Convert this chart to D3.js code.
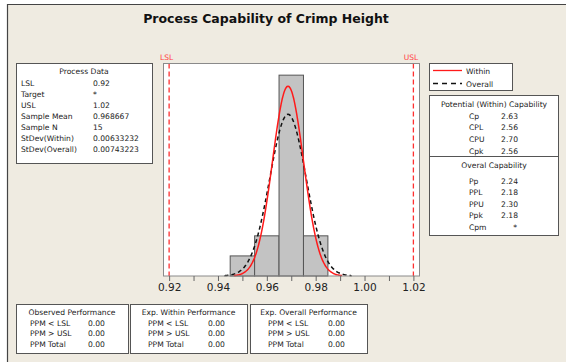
<!DOCTYPE html>
<html><head><meta charset="utf-8">
<script src="https://cdn.jsdelivr.net/npm/d3@7"></script>
<style>
html,body{margin:0;padding:0;background:#fff;}
svg{display:block;}
text{font-family:"DejaVu Sans",Verdana,sans-serif;fill:#222;}
</style></head>
<body>
<svg id="chart" width="566" height="362"></svg>
<script>
// ---- data ----
const title = "Process Capability of Crimp Height";
const binEdges = [0.945, 0.955, 0.965, 0.975, 0.985];
const binCounts = [1, 2, 10, 2];
const xTickValues = [0.92, 0.94, 0.96, 0.98, 1.00, 1.02];
const xMinorTicks = [0.93, 0.95, 0.97, 0.99, 1.01];
const specNames = ["LSL", "USL"];
const specValues = [0.92, 1.02];
const sampleMean = 0.968667;
const sampleN = 15;
const stdevWithin = 0.00633232;
const stdevOverall = 0.00743223;
const processLabels = ["LSL", "Target", "USL", "Sample Mean", "Sample N", "StDev(Within)", "StDev(Overall)"];
const processValues = ["0.92", "*", "1.02", "0.968667", "15", "0.00633232", "0.00743223"];
const legendNames = ["Within", "Overall"];
const potentialLabels = ["Cp", "CPL", "CPU", "Cpk"];
const potentialValues = ["2.63", "2.56", "2.70", "2.56"];
const overallLabels = ["Pp", "PPL", "PPU", "Ppk", "Cpm"];
const overallValues = ["2.24", "2.18", "2.30", "2.18", "*"];
const perfTitles = ["Observed Performance", "Exp. Within Performance", "Exp. Overall Performance"];
const perfLabels = ["PPM < LSL", "PPM > USL", "PPM Total"];
const perfValues = [["0.00", "0.00", "0.00"], ["0.00", "0.00", "0.00"], ["0.00", "0.00", "0.00"]];

// ---- layout ----
const svg = d3.select("#chart");
const bg = "#efebe1";
svg.append("rect").attr("x", 7).attr("y", 4).attr("width", 566).attr("height", 362).attr("fill", bg);
svg.append("line").attr("x1", 7).attr("x2", 566).attr("y1", 4.5).attr("y2", 4.5).attr("stroke", "#444").attr("stroke-width", 1.2);
svg.append("line").attr("x1", 7.5).attr("x2", 7.5).attr("y1", 4).attr("y2", 362).attr("stroke", "#444").attr("stroke-width", 1.2);

svg.append("text").attr("x", 266).attr("y", 23).attr("text-anchor", "middle")
  .style("font-size", "12.5px").style("font-weight", "bold").style("fill", "#111").text(title);

const plot = {left: 163.5, right: 419.5, top: 63.5, bottom: 276};
const x = d3.scaleLinear().domain([0.9177, 1.0225]).range([plot.left, plot.right]);
const y = d3.scaleLinear().domain([0, 10.58]).range([plot.bottom, plot.top]);

svg.append("rect").attr("x", plot.left).attr("y", plot.top)
  .attr("width", plot.right - plot.left).attr("height", plot.bottom - plot.top)
  .attr("fill", "#fff");

// histogram
const bins = binCounts.map((c, i) => ({x0: binEdges[i], x1: binEdges[i + 1], c}));
svg.append("g").selectAll("rect").data(bins).join("rect")
  .attr("x", d => x(d.x0)).attr("y", d => y(d.c))
  .attr("width", d => x(d.x1) - x(d.x0)).attr("height", d => y(0) - y(d.c))
  .attr("fill", "#c3c3c3").attr("stroke", "#555").attr("stroke-width", 1);

// fitted normal curves (from sample mean and the two standard deviations)
const binWidth = binEdges[1] - binEdges[0];
function curve(sd) {
  return d3.range(-3.5, 3.5001, 0.05).map(z => {
    const v = sampleMean + z * sd;
    return [v, sampleN * binWidth * Math.exp(-z * z / 2) / (sd * Math.sqrt(2 * Math.PI))];
  });
}
const line = d3.line().x(d => x(d[0])).y(d => y(d[1])).curve(d3.curveBasis);
svg.append("path").attr("d", line(curve(stdevOverall))).attr("fill", "none")
  .attr("stroke", "#111").attr("stroke-width", 1.5).attr("stroke-dasharray", "4,3");
svg.append("path").attr("d", line(curve(stdevWithin))).attr("fill", "none")
  .attr("stroke", "#ff1a1a").attr("stroke-width", 1.5);

// spec lines
specValues.forEach((v, i) => {
  svg.append("line").attr("x1", x(v)).attr("x2", x(v)).attr("y1", plot.top).attr("y2", plot.bottom)
    .attr("stroke", "#ff3030").attr("stroke-width", 1.3).attr("stroke-dasharray", "5,3");
  svg.append("text").attr("x", x(v) - 2.5).attr("y", 60).attr("text-anchor", "middle")
    .style("font-size", "7.5px").style("fill", "#ff4040").text(specNames[i]);
});

// plot border
svg.append("rect").attr("x", plot.left).attr("y", plot.top)
  .attr("width", plot.right - plot.left).attr("height", plot.bottom - plot.top)
  .attr("fill", "none").attr("stroke", "#8a8a8a").attr("stroke-width", 1);

// x axis
const axis = svg.append("g").attr("transform", `translate(0,${plot.bottom})`)
  .call(d3.axisBottom(x).tickValues(xTickValues).tickFormat(d3.format(".2f")).tickSize(5).tickPadding(3));
axis.select(".domain").remove();
axis.selectAll(".tick line").attr("stroke", "#666");
axis.selectAll(".tick text").style("font-size", "10.5px").style("font-family", "DejaVu Sans").attr("fill", "#222");
svg.append("g").attr("transform", `translate(0,${plot.bottom})`)
  .call(d3.axisBottom(x).tickValues(xMinorTicks).tickFormat("").tickSize(5))
  .call(g => g.select(".domain").remove())
  .selectAll(".tick line").attr("stroke", "#666");

// generic box helper
function box(x0, y0, w, h) {
  svg.append("rect").attr("x", x0 + 0.5).attr("y", y0 + 0.5).attr("width", w).attr("height", h)
    .attr("fill", "#fff").attr("stroke", "#555").attr("stroke-width", 1);
}
const fs = "7.6px";

// Process data
box(16, 63, 136, 100);
svg.append("text").attr("x", 84).attr("y", 73.5).attr("text-anchor", "middle").style("font-size", fs).text("Process Data");
processLabels.forEach((l, i) => {
  const yy = 85.5 + i * 11.1;
  svg.append("text").attr("x", 21).attr("y", yy).style("font-size", fs).text(l);
  svg.append("text").attr("x", 93).attr("y", yy).style("font-size", fs).text(processValues[i]);
});

// legend
box(429, 63, 83, 27);
svg.append("line").attr("x1", 433).attr("x2", 462).attr("y1", 70.5).attr("y2", 70.5).attr("stroke", "#ff1a1a").attr("stroke-width", 1.3);
svg.append("line").attr("x1", 433).attr("x2", 462).attr("y1", 83.5).attr("y2", 83.5).attr("stroke", "#111").attr("stroke-width", 1.3).attr("stroke-dasharray", "5,4");
legendNames.forEach((n, i) => {
  svg.append("text").attr("x", 466).attr("y", 73.5 + i * 13).style("font-size", fs).text(n);
});

// capability box
box(429, 95, 129, 140);
svg.append("line").attr("x1", 429.5).attr("x2", 558.5).attr("y1", 156.5).attr("y2", 156.5).attr("stroke", "#555");
svg.append("text").attr("x", 494).attr("y", 106.5).attr("text-anchor", "middle").style("font-size", fs).text("Potential (Within) Capability");
potentialLabels.forEach((l, i) => {
  const yy = 118.5 + i * 11.8;
  svg.append("text").attr("x", 469).attr("y", yy).style("font-size", fs).text(l);
  svg.append("text").attr("x", 518).attr("y", yy).attr("text-anchor", "end").style("font-size", fs).text(potentialValues[i]);
});
svg.append("text").attr("x", 494).attr("y", 167.5).attr("text-anchor", "middle").style("font-size", fs).text("Overal Capability");
overallLabels.forEach((l, i) => {
  const yy = 183.5 + i * 11.6;
  svg.append("text").attr("x", 469).attr("y", yy).style("font-size", fs).text(l);
  svg.append("text").attr("x", overallValues[i] === "*" ? 517 : 518).attr("y", yy).attr("text-anchor", "end").style("font-size", fs).text(overallValues[i]);
});

// performance boxes
const perfX = [16, 130, 250];
const perfW = [112, 117, 117];
perfTitles.forEach((t, b) => {
  const x0 = perfX[b];
  box(x0, 304, perfW[b], 49);
  svg.append("text").attr("x", x0 + perfW[b] / 2).attr("y", 314.5).attr("text-anchor", "middle").style("font-size", fs).text(t);
  perfLabels.forEach((l, i) => {
    const yy = 325.5 + i * 10.5;
    svg.append("text").attr("x", x0 + 14 + (b ? 4 : 0)).attr("y", yy).style("font-size", fs).text(l);
    svg.append("text").attr("x", x0 + 72 + (b ? 6 : 0)).attr("y", yy).style("font-size", fs).text(perfValues[b][i]);
  });
});
</script>
</body></html>
